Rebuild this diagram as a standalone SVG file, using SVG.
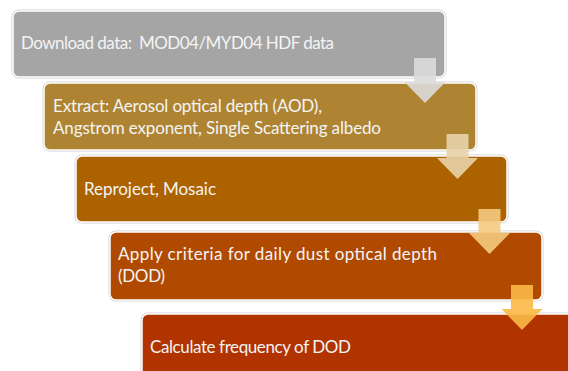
<svg xmlns="http://www.w3.org/2000/svg" width="568" height="371" viewBox="0 0 568 371">
  <style>
    .edge { fill: none; stroke: #cfcfcf; stroke-width: 3; }
    .box { stroke: #ffffff; stroke-width: 1.5; }
    .label { font-family: "Lato", "Liberation Sans", sans-serif; font-size: 17px; fill: #f4f4f4; white-space: pre; }
    .arrow { opacity: 0.9; }
  </style>
  <defs>
    <!-- block arrow, origin at top centre of the shaft -->
    <path id="downArrow" d="M-11,0 H11 V24 H20.5 L0,45 L-20.5,24 H-11 Z"/>
  </defs>
  <rect width="568" height="371" fill="#ffffff"/>

  <g id="step1">
    <rect class="edge" x="13" y="11" width="432" height="66" rx="6"/>
    <rect class="box" x="13" y="11" width="432" height="66" rx="6" fill="#a5a5a5"/>
    <text class="label" x="21" y="49" textLength="313" xml:space="preserve">Download data:  MOD04/MYD04 HDF data</text>
  </g>

  <g id="step2">
    <rect class="edge" x="44" y="83" width="432" height="67" rx="6"/>
    <rect class="box" x="44" y="83" width="432" height="67" rx="6" fill="#ae8433"/>
    <text class="label" x="53" y="112" textLength="269">Extract: Aerosol optical depth (AOD),</text>
    <text class="label" x="53" y="134" textLength="328">Angstrom exponent, Single Scattering albedo</text>
  </g>

  <g id="step3">
    <rect class="edge" x="76" y="156" width="431" height="66" rx="6"/>
    <rect class="box" x="76" y="156" width="431" height="66" rx="6" fill="#ad6200"/>
    <text class="label" x="84" y="195" textLength="132">Reproject, Mosaic</text>
  </g>

  <g id="step4">
    <rect class="edge" x="110" y="232" width="432" height="68" rx="6"/>
    <rect class="box" x="110" y="232" width="432" height="68" rx="6" fill="#b04a00"/>
    <text class="label" x="118" y="260" textLength="319">Apply criteria for daily dust optical depth</text>
    <text class="label" x="118" y="282" textLength="47">(DOD)</text>
  </g>

  <g id="step5">
    <rect class="edge" x="142" y="314" width="432" height="67" rx="6"/>
    <rect class="box" x="142" y="314" width="432" height="67" rx="6" fill="#b03300"/>
    <text class="label" x="150" y="353" textLength="201">Calculate frequency of DOD</text>
  </g>

  <g id="connectors">
    <use class="arrow" href="#downArrow" x="425" y="58" fill="#dcdcdc"/>
    <use class="arrow" href="#downArrow" x="457.5" y="134" fill="#e8d3a8"/>
    <use class="arrow" href="#downArrow" x="489.5" y="209" fill="#f4ca7e"/>
    <use class="arrow" href="#downArrow" x="522" y="285" fill="#fbb946"/>
  </g>
</svg>
